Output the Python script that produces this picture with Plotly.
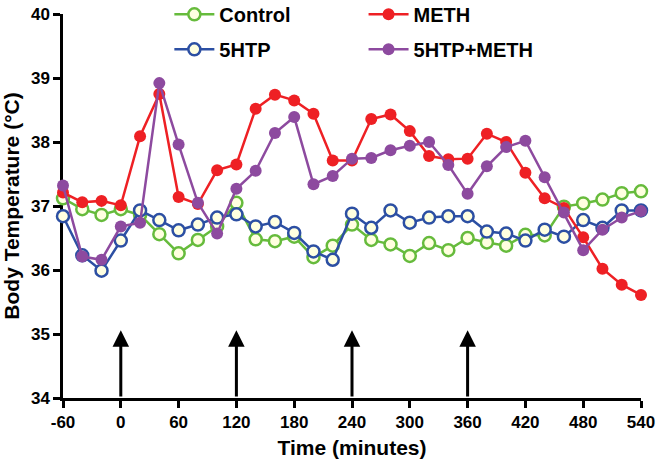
import plotly.graph_objects as go

times = [-60, -40, -20, 0, 20, 40, 60, 80, 100, 120, 140, 160, 180, 200, 220, 240,
         260, 280, 300, 320, 340, 360, 380, 400, 420, 440, 460, 480, 500, 520, 540]

control = [37.12, 36.95, 36.86, 36.95, 36.86, 36.56, 36.26, 36.47, 36.68, 37.05, 36.48,
           36.45, 36.52, 36.20, 36.38, 36.71, 36.47, 36.40, 36.22, 36.42, 36.31, 36.50,
           36.43, 36.38, 36.55, 36.54, 36.99, 37.04, 37.10, 37.20, 37.23]

htp = [36.84, 36.23, 35.99, 36.46, 36.93, 36.78, 36.62, 36.71, 36.82, 36.87, 36.68,
       36.75, 36.58, 36.29, 36.16, 36.88, 36.66, 36.93, 36.74, 36.82, 36.84, 36.84,
       36.60, 36.57, 36.46, 36.63, 36.52, 36.78, 36.66, 36.93, 36.93]

meth = [37.21, 37.06, 37.08, 37.01, 38.09, 38.75, 37.14, 37.03, 37.56, 37.65, 38.52,
        38.74, 38.65, 38.44, 37.71, 37.71, 38.36, 38.43, 38.17, 37.78, 37.73, 37.74,
        38.13, 38.00, 37.52, 37.12, 36.97, 36.51, 36.02, 35.77, 35.61]

htp_meth = [37.32, 36.21, 36.16, 36.68, 36.74, 38.92, 37.96, 37.05, 36.57, 37.27, 37.55,
            38.14, 38.39, 37.34, 37.47, 37.74, 37.75, 37.87, 37.94, 38.00, 37.64, 37.19,
            37.62, 37.92, 38.02, 37.45, 36.90, 36.31, 36.63, 36.82, 36.92]

arrow_times = [0, 120, 240, 360]
arrow_base = 34
arrow_tip = 35.06

x_ticks = [-60, 0, 60, 120, 180, 240, 300, 360, 420, 480, 540]
y_ticks = [34, 35, 36, 37, 38, 39, 40]

GREEN = "#66BB3C"
BLUE = "#2C4FA3"
RED = "#EE2024"
PURPLE = "#8D4A9F"
FILL = "#FFFFE0"

fig = go.Figure()

def add(name, y, color, open_marker, legend):
    if open_marker:
        marker = dict(symbol="circle", size=12, color=FILL, line=dict(color=color, width=2.5))
    else:
        marker = dict(symbol="circle", size=12, color=color, line=dict(color=color, width=0))
    fig.add_trace(go.Scatter(
        x=times, y=y, name=name, mode="lines+markers",
        line=dict(color=color, width=2.5), marker=marker,
        cliponaxis=False, legend=legend, legendgroup=name,
    ))

add("Control", control, GREEN, True, "legend")
add("5HTP", htp, BLUE, True, "legend")
add("METH", meth, RED, False, "legend2")
add("5HTP+METH", htp_meth, PURPLE, False, "legend2")

for t in arrow_times:
    fig.add_annotation(
        x=t, y=arrow_tip, ax=t, ay=arrow_base, xref="x", yref="y", axref="x", ayref="y",
        showarrow=True, arrowhead=2, arrowsize=1.1, arrowwidth=3, arrowcolor="black",
        standoff=0, startstandoff=0, text="",
    )

font_family = "Liberation Sans, Arial, sans-serif"
legend_common = dict(
    font=dict(size=20, family=font_family, color="black", weight="bold"),
    bgcolor="rgba(0,0,0,0)", borderwidth=0, xanchor="left", yanchor="top",
    tracegroupgap=6, itemwidth=40,
)

fig.update_layout(
    width=662, height=465,
    margin=dict(l=63, r=21, t=14, b=67, autoexpand=False),
    plot_bgcolor="white", paper_bgcolor="white",
    font=dict(family=font_family, color="black", weight="bold"),
    showlegend=True,
    legend=dict(x=0.184, y=1.05, **legend_common),
    legend2=dict(x=0.52, y=1.05, **legend_common),
    xaxis=dict(
        range=[-60, 540], tickvals=x_ticks, ticktext=[str(v) for v in x_ticks],
        showgrid=False, zeroline=False, showline=True, linecolor="black", linewidth=2.5,
        ticks="outside", ticklen=7, tickwidth=2.5, tickcolor="black",
        tickfont=dict(size=17, family=font_family, weight="bold"),
        title=dict(text="Time (minutes)", font=dict(size=21, family=font_family, weight="bold"), standoff=10),
        layer="below traces",
    ),
    yaxis=dict(
        range=[34, 40], tickvals=y_ticks, ticktext=[str(v) for v in y_ticks],
        showgrid=False, zeroline=False, showline=True, linecolor="black", linewidth=2.5,
        ticks="outside", ticklen=7, tickwidth=2.5, tickcolor="black",
        tickfont=dict(size=17, family=font_family, weight="bold"),
        title=dict(text="Body Temperature (°C)", font=dict(size=21, family=font_family, weight="bold"), standoff=8),
        layer="below traces",
    ),
)

fig.write_html("out.html", config={"displayModeBar": False},
               post_script="document.body.style.margin='0px';")
